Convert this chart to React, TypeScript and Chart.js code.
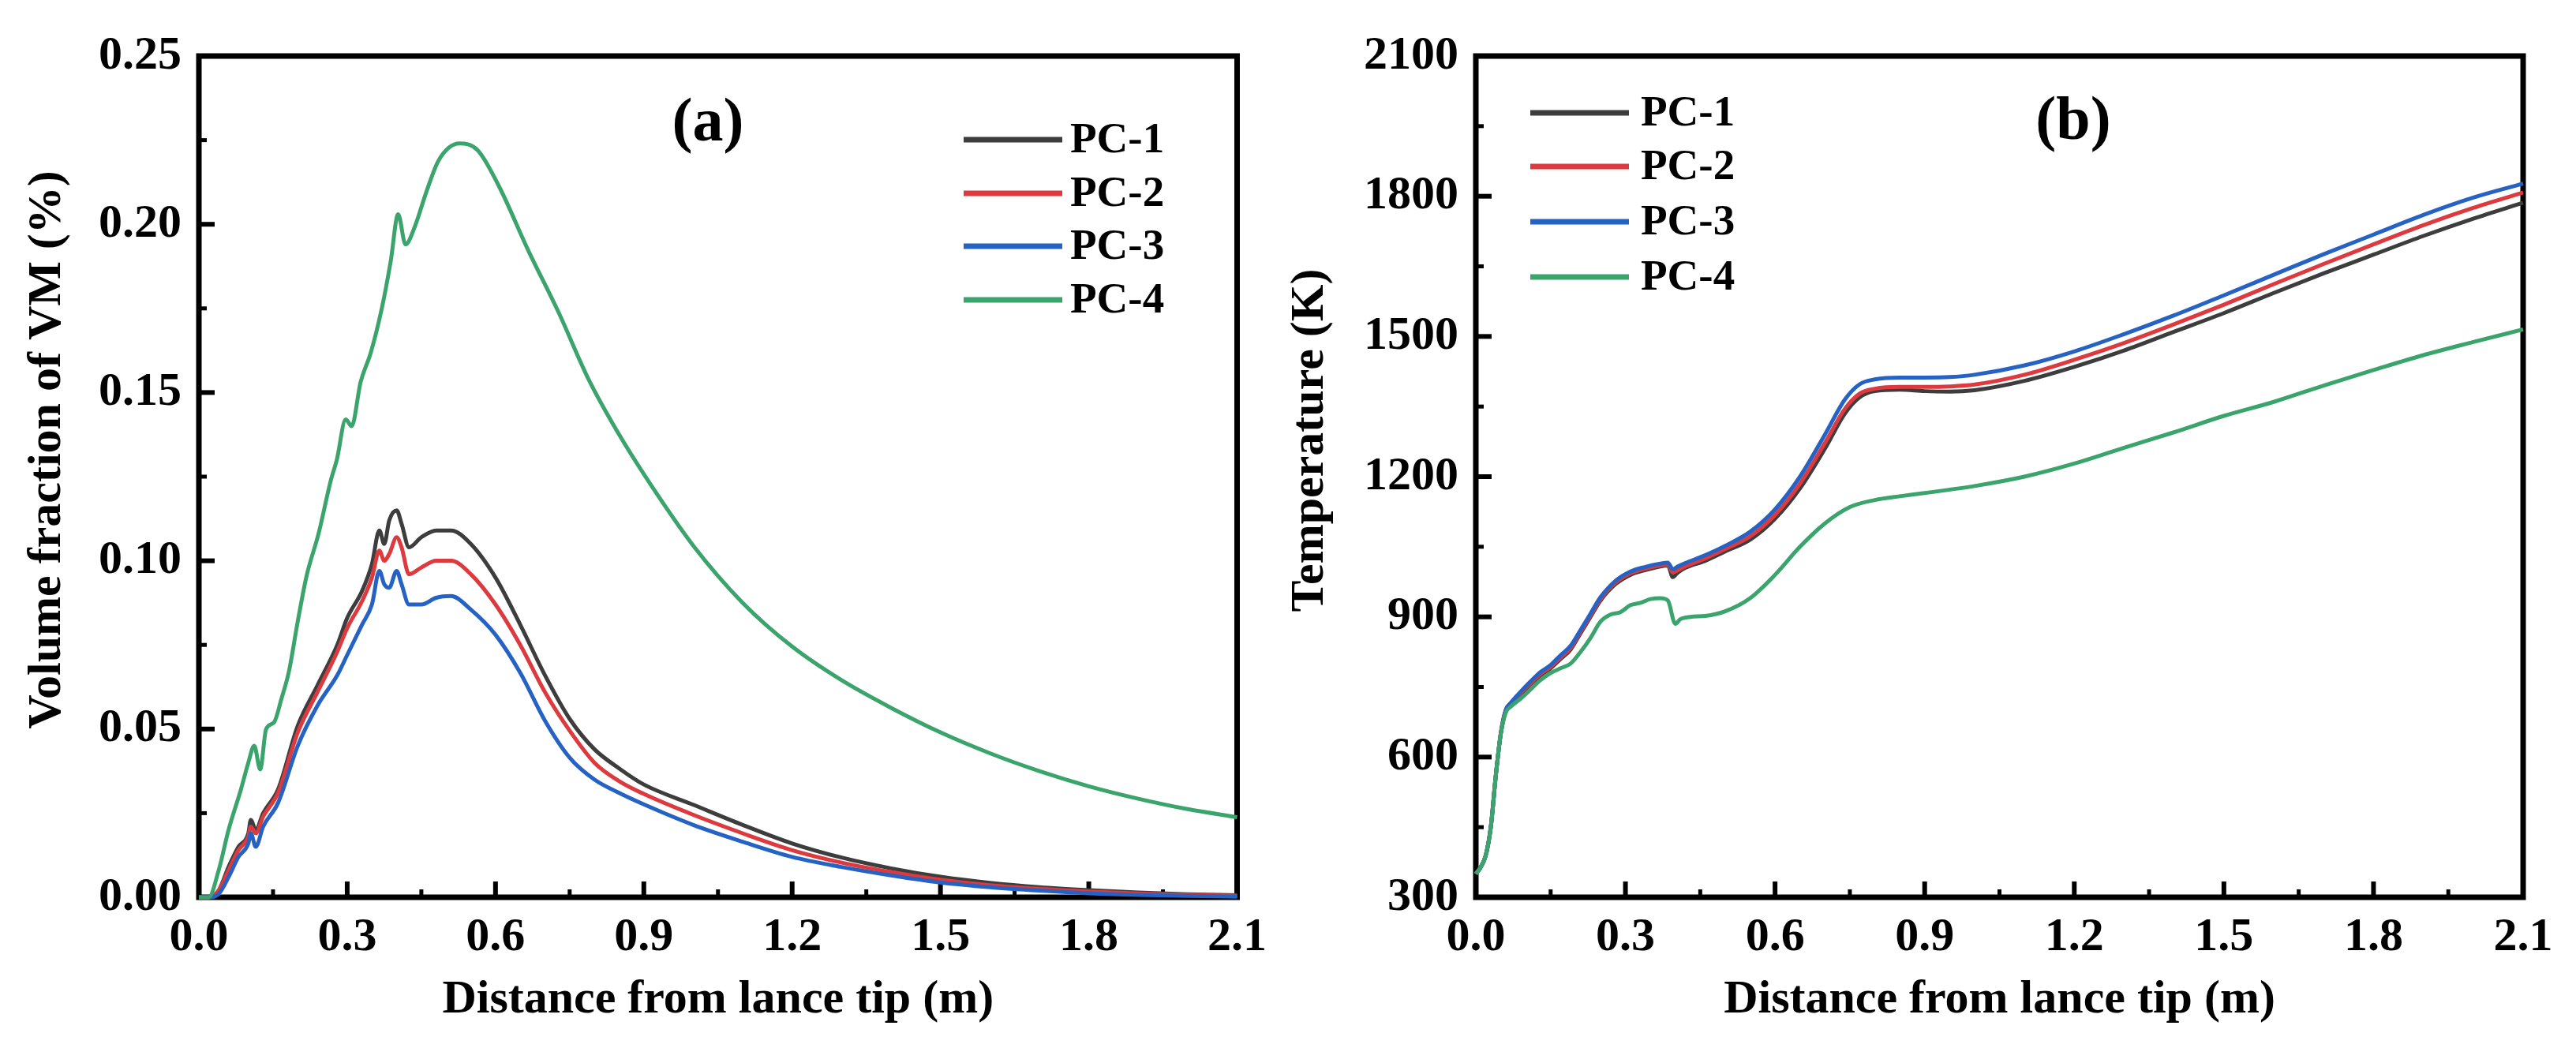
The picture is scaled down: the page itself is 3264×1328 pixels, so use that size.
import { useEffect, useRef } from 'react';
import { Chart, registerables } from 'chart.js';

Chart.register(...registerables);

const PAGE_W = 3264;
const PAGE_H = 1328;
const FONT = "'Liberation Serif', 'Times New Roman', serif";

const seriesNames = ['PC-1', 'PC-2', 'PC-3', 'PC-4'];
const seriesColors = ['#3d3d3d', '#dc3a3f', '#2562c4', '#3ba46c'];

const distTicks = [0, 0.3, 0.6, 0.9, 1.2, 1.5, 1.8, 2.1];
const distTickLabels = ['0.0', '0.3', '0.6', '0.9', '1.2', '1.5', '1.8', '2.1'];

// (a) volume fraction of VM
const vmTicks = [0, 0.05, 0.1, 0.15, 0.2, 0.25];
const vmTickLabels = ['0.00', '0.05', '0.10', '0.15', '0.20', '0.25'];

const vmDist = [0, 0.02, 0.04, 0.06, 0.08, 0.1, 0.105, 0.115, 0.13, 0.16, 0.2, 0.24, 0.28, 0.3, 0.33, 0.35, 0.365, 0.375, 0.385, 0.4, 0.41, 0.425, 0.45, 0.48, 0.51, 0.55, 0.6, 0.65, 0.7, 0.75, 0.8, 0.85, 0.9, 1.0, 1.1, 1.2, 1.3, 1.4, 1.5, 1.6, 1.7, 1.8, 1.9, 2.0, 2.1];
const vmPc1 = [0, 0, 0.002, 0.009, 0.015, 0.019, 0.023, 0.02, 0.025, 0.032, 0.051, 0.063, 0.075, 0.083, 0.091, 0.099, 0.109, 0.105, 0.112, 0.115, 0.111, 0.104, 0.107, 0.109, 0.109, 0.105, 0.095, 0.081, 0.066, 0.053, 0.044, 0.0383, 0.0335, 0.0275, 0.0215, 0.016, 0.0118, 0.0086, 0.0061, 0.0043, 0.003, 0.0021, 0.0014, 0.0009, 0.0006];
const vmPc2 = [0, 0, 0.002, 0.008, 0.014, 0.018, 0.021, 0.019, 0.024, 0.031, 0.049, 0.061, 0.073, 0.08, 0.088, 0.095, 0.103, 0.1, 0.102, 0.107, 0.104, 0.096, 0.098, 0.1, 0.1, 0.096, 0.087, 0.075, 0.061, 0.0495, 0.04, 0.0345, 0.0307, 0.0245, 0.019, 0.014, 0.0103, 0.0075, 0.0052, 0.0036, 0.0025, 0.0017, 0.0011, 0.0007, 0.0004];
const vmPc3 = [0, 0, 0.001, 0.006, 0.012, 0.016, 0.019, 0.015, 0.021, 0.028, 0.045, 0.057, 0.066, 0.072, 0.081, 0.087, 0.097, 0.093, 0.092, 0.097, 0.093, 0.087, 0.087, 0.089, 0.0895, 0.0855, 0.078, 0.0667, 0.0525, 0.0415, 0.035, 0.031, 0.0276, 0.0215, 0.0165, 0.012, 0.009, 0.0065, 0.0044, 0.003, 0.002, 0.0012, 0.0007, 0.0004, 0.0002];

const vmDistPc4 = [0, 0.02, 0.04, 0.06, 0.085, 0.1, 0.112, 0.124, 0.136, 0.152, 0.167, 0.182, 0.2, 0.218, 0.242, 0.267, 0.279, 0.297, 0.309, 0.327, 0.348, 0.37, 0.388, 0.403, 0.418, 0.436, 0.461, 0.485, 0.527, 0.564, 0.606, 0.667, 0.727, 0.788, 0.848, 0.91, 1.0, 1.1, 1.2, 1.3, 1.4, 1.5, 1.6, 1.7, 1.8, 1.9, 2.0, 2.1];
const vmPc4 = [0, 0, 0.008, 0.02, 0.032, 0.04, 0.045, 0.038, 0.05, 0.052, 0.059, 0.067, 0.082, 0.0956, 0.108, 0.124, 0.13, 0.142, 0.14, 0.153, 0.162, 0.175, 0.189, 0.203, 0.194, 0.199, 0.21, 0.219, 0.224, 0.222, 0.2116, 0.192, 0.174, 0.154, 0.138, 0.1235, 0.1045, 0.0875, 0.0745, 0.0645, 0.0563, 0.049, 0.0428, 0.0375, 0.033, 0.0293, 0.0262, 0.0238];

// (b) temperature
const tTicks = [300, 600, 900, 1200, 1500, 1800, 2100];
const tTickLabels = ['300', '600', '900', '1200', '1500', '1800', '2100'];

const tDist = [0, 0.01, 0.02, 0.03, 0.04, 0.05, 0.06, 0.07, 0.09, 0.11, 0.13, 0.15, 0.17, 0.19, 0.21, 0.23, 0.25, 0.28, 0.31, 0.34, 0.37, 0.385, 0.395, 0.405, 0.42, 0.46, 0.5, 0.55, 0.6, 0.65, 0.7, 0.74, 0.77, 0.8, 0.85, 0.9, 0.95, 1.0, 1.1, 1.2, 1.3, 1.4, 1.5, 1.6, 1.7, 1.8, 1.9, 2.0, 2.1];
const tPc1 = [350, 365, 390, 450, 560, 650, 700, 715, 735, 755, 775, 790, 810, 830, 865, 900, 935, 970, 990, 1000, 1008, 1010, 985, 995, 1005, 1020, 1040, 1065, 1110, 1175, 1260, 1335, 1370, 1383, 1386, 1383, 1382, 1385, 1405, 1435, 1470, 1510, 1550, 1593, 1635, 1675, 1715, 1752, 1786];
const tPc2 = [350, 365, 390, 450, 560, 650, 700, 715, 737, 758, 778, 793, 813, 833, 868, 903, 938, 973, 993, 1003, 1010, 1012, 995, 1000, 1008, 1025, 1045, 1072, 1118, 1185, 1272, 1345, 1378, 1388, 1392, 1392, 1393, 1397, 1418, 1450, 1486, 1526, 1568, 1612, 1655, 1697, 1738, 1775, 1808];
const tPc3 = [350, 365, 390, 450, 560, 650, 700, 716, 740, 762, 782, 797, 818, 838, 872, 907, 942, 977, 997, 1007, 1014, 1016, 1002, 1008, 1015, 1032, 1052, 1082, 1130, 1200, 1290, 1365, 1398, 1408, 1412, 1412, 1413, 1418, 1438, 1468, 1505, 1545, 1588, 1632, 1676, 1718, 1760, 1797, 1827];

const tDistPc4 = [0, 0.01, 0.02, 0.03, 0.04, 0.05, 0.06, 0.07, 0.09, 0.11, 0.13, 0.15, 0.17, 0.19, 0.21, 0.23, 0.25, 0.27, 0.29, 0.31, 0.33, 0.35, 0.37, 0.385, 0.4, 0.41, 0.43, 0.46, 0.5, 0.55, 0.6, 0.65, 0.7, 0.75, 0.8, 0.85, 0.9, 1.0, 1.1, 1.2, 1.3, 1.4, 1.5, 1.6, 1.7, 1.8, 1.9, 2.0, 2.1];
const tPc4 = [350, 365, 390, 450, 560, 650, 695, 708, 725, 745, 765, 780, 790, 800, 825, 855, 890, 905, 910, 925, 930, 938, 940, 935, 885, 895, 900, 902, 912, 940, 990, 1050, 1100, 1135, 1150, 1158, 1165, 1180, 1200, 1228, 1262, 1295, 1330, 1360, 1395, 1428, 1460, 1488, 1515];

interface PanelProps {
  left: number;
  width: number;
  xs: number[][];
  ys: number[][];
  yMin: number;
  yMax: number;
  yTicks: number[];
  yTickLabels: string[];
  yTitle: string;
  yTitlePos: [number, number];
  plot: { left: number; right: number; top: number; bottom: number };
  legend: { x1: number; x2: number; tx: number; rows: number[] };
  tag: string;
  tagPos: [number, number];
}

function Panel(props: PanelProps) {
  const canvasRef = useRef<HTMLCanvasElement>(null);

  useEffect(() => {
    if (!canvasRef.current) return;
    const { plot, width, legend } = props;

    // box, inward ticks, y title, in-plot legend and panel tag
    const framePlugin = {
      id: 'frame',
      beforeDatasetsDraw(chart: any) {
        const { ctx, chartArea: a, scales } = chart;
        ctx.save();
        ctx.strokeStyle = '#000';
        ctx.lineCap = 'butt';
        const drawTicks = (scale: any, horizontal: boolean) => {
          const vals = scale.ticks.map((t: any) => t.value);
          for (let i = 0; i < vals.length; i++) {
            const marks: [number, number][] = [[vals[i], 20]];
            if (i < vals.length - 1) marks.push([(vals[i] + vals[i + 1]) / 2, 10]);
            for (const [v, len] of marks) {
              const p = scale.getPixelForValue(v);
              ctx.lineWidth = len > 10 ? 6 : 5;
              ctx.beginPath();
              if (horizontal) {
                ctx.moveTo(p, a.bottom);
                ctx.lineTo(p, a.bottom - len);
              } else {
                ctx.moveTo(a.left, p);
                ctx.lineTo(a.left + len, p);
              }
              ctx.stroke();
            }
          }
        };
        drawTicks(scales.x, true);
        drawTicks(scales.y, false);
        ctx.lineWidth = 7;
        ctx.strokeRect(a.left, a.top, a.right - a.left, a.bottom - a.top);
        ctx.restore();
      },
      afterDraw(chart: any) {
        const { ctx } = chart;
        ctx.save();
        ctx.fillStyle = '#000';
        ctx.textBaseline = 'middle';

        ctx.save();
        ctx.font = `bold 60px ${FONT}`;
        ctx.textAlign = 'center';
        ctx.translate(props.yTitlePos[0], props.yTitlePos[1]);
        ctx.rotate(-Math.PI / 2);
        ctx.fillText(props.yTitle, 0, 0);
        ctx.restore();

        ctx.font = `bold 55px ${FONT}`;
        chart.data.datasets.forEach((ds: any, i: number) => {
          const y = legend.rows[i];
          ctx.strokeStyle = ds.borderColor;
          ctx.lineWidth = 7;
          ctx.beginPath();
          ctx.moveTo(legend.x1, y);
          ctx.lineTo(legend.x2, y);
          ctx.stroke();
          ctx.textAlign = 'left';
          ctx.fillText(ds.label, legend.tx, y + 2);
        });
        ctx.font = `bold 78px ${FONT}`;
        ctx.textAlign = 'center';
        ctx.fillText(props.tag, props.tagPos[0], props.tagPos[1]);
        ctx.restore();
      },
    };

    const tickFont = { family: FONT, size: 60, weight: 'bold' as const };
    const titleFont = { family: FONT, size: 60, weight: 'bold' as const };

    const chart = new Chart(canvasRef.current, {
      type: 'line',
      data: {
        datasets: props.xs.map((xv, i) => ({
          label: seriesNames[i],
          data: xv.map((x, j) => ({ x, y: props.ys[i][j] })),
          borderColor: seriesColors[i],
          backgroundColor: seriesColors[i],
          borderWidth: 5,
          pointRadius: 0,
          cubicInterpolationMode: 'monotone' as const,
          clip: false as const,
          order: 3 - i,
        })),
      },
      options: {
        responsive: false,
        animation: false,
        devicePixelRatio: 1,
        layout: { padding: { left: 0, top: plot.top, right: width - plot.right, bottom: 0 } },
        plugins: { legend: { display: false }, tooltip: { enabled: false } },
        scales: {
          x: {
            type: 'linear',
            min: 0,
            max: 2.1,
            afterFit: (s: any) => { s.height = PAGE_H - plot.bottom; },
            afterBuildTicks: (s: any) => { s.ticks = distTicks.map((value) => ({ value })); },
            ticks: {
              callback: (_v: any, i: number) => distTickLabels[i],
              font: tickFont,
              color: '#000',
              padding: 15,
              maxRotation: 0,
              autoSkip: false,
            },
            grid: { display: false, drawTicks: false },
            border: { display: false },
            title: {
              display: true,
              text: 'Distance from lance tip (m)',
              font: titleFont,
              color: '#000',
              padding: { top: 0, bottom: 25 },
            },
          },
          y: {
            type: 'linear',
            min: props.yMin,
            max: props.yMax,
            afterFit: (s: any) => { s.width = plot.left; },
            afterBuildTicks: (s: any) => { s.ticks = props.yTicks.map((value) => ({ value })); },
            ticks: {
              callback: (_v: any, i: number) => props.yTickLabels[i],
              font: tickFont,
              color: '#000',
              padding: 22,
              autoSkip: false,
            },
            grid: { display: false, drawTicks: false },
            border: { display: false },
          },
        },
      },
      plugins: [framePlugin],
    });

    return () => {
      chart.destroy();
    };
  }, []);

  return (
    <canvas
      ref={canvasRef}
      width={props.width}
      height={PAGE_H}
      style={{ position: 'absolute', left: props.left, top: 0, width: props.width, height: PAGE_H }}
    />
  );
}

export default function App() {
  return (
    <div style={{ position: 'fixed', left: 0, top: 0, width: PAGE_W, height: PAGE_H, background: '#fff' }}>
      <Panel
        left={0}
        width={1620}
        xs={[vmDist, vmDist, vmDist, vmDistPc4]}
        ys={[vmPc1, vmPc2, vmPc3, vmPc4]}
        yMin={0}
        yMax={0.25}
        yTicks={vmTicks}
        yTickLabels={vmTickLabels}
        yTitle="Volume fraction of VM (%)"
        yTitlePos={[60, 570]}
        plot={{ left: 252, right: 1578, top: 71, bottom: 1137 }}
        legend={{ x1: 1221, x2: 1346, tx: 1356, rows: [177, 245, 312, 380] }}
        tag="(a)"
        tagPos={[897, 158]}
      />
      <Panel
        left={1620}
        width={1644}
        xs={[tDist, tDist, tDist, tDistPc4]}
        ys={[tPc1, tPc2, tPc3, tPc4]}
        yMin={300}
        yMax={2100}
        yTicks={tTicks}
        yTickLabels={tTickLabels}
        yTitle="Temperature (K)"
        yTitlePos={[40, 558]}
        plot={{ left: 250, right: 1577, top: 71, bottom: 1137 }}
        legend={{ x1: 319, x2: 444, tx: 459, rows: [143, 211, 281, 351] }}
        tag="(b)"
        tagPos={[1007, 156]}
      />
    </div>
  );
}
